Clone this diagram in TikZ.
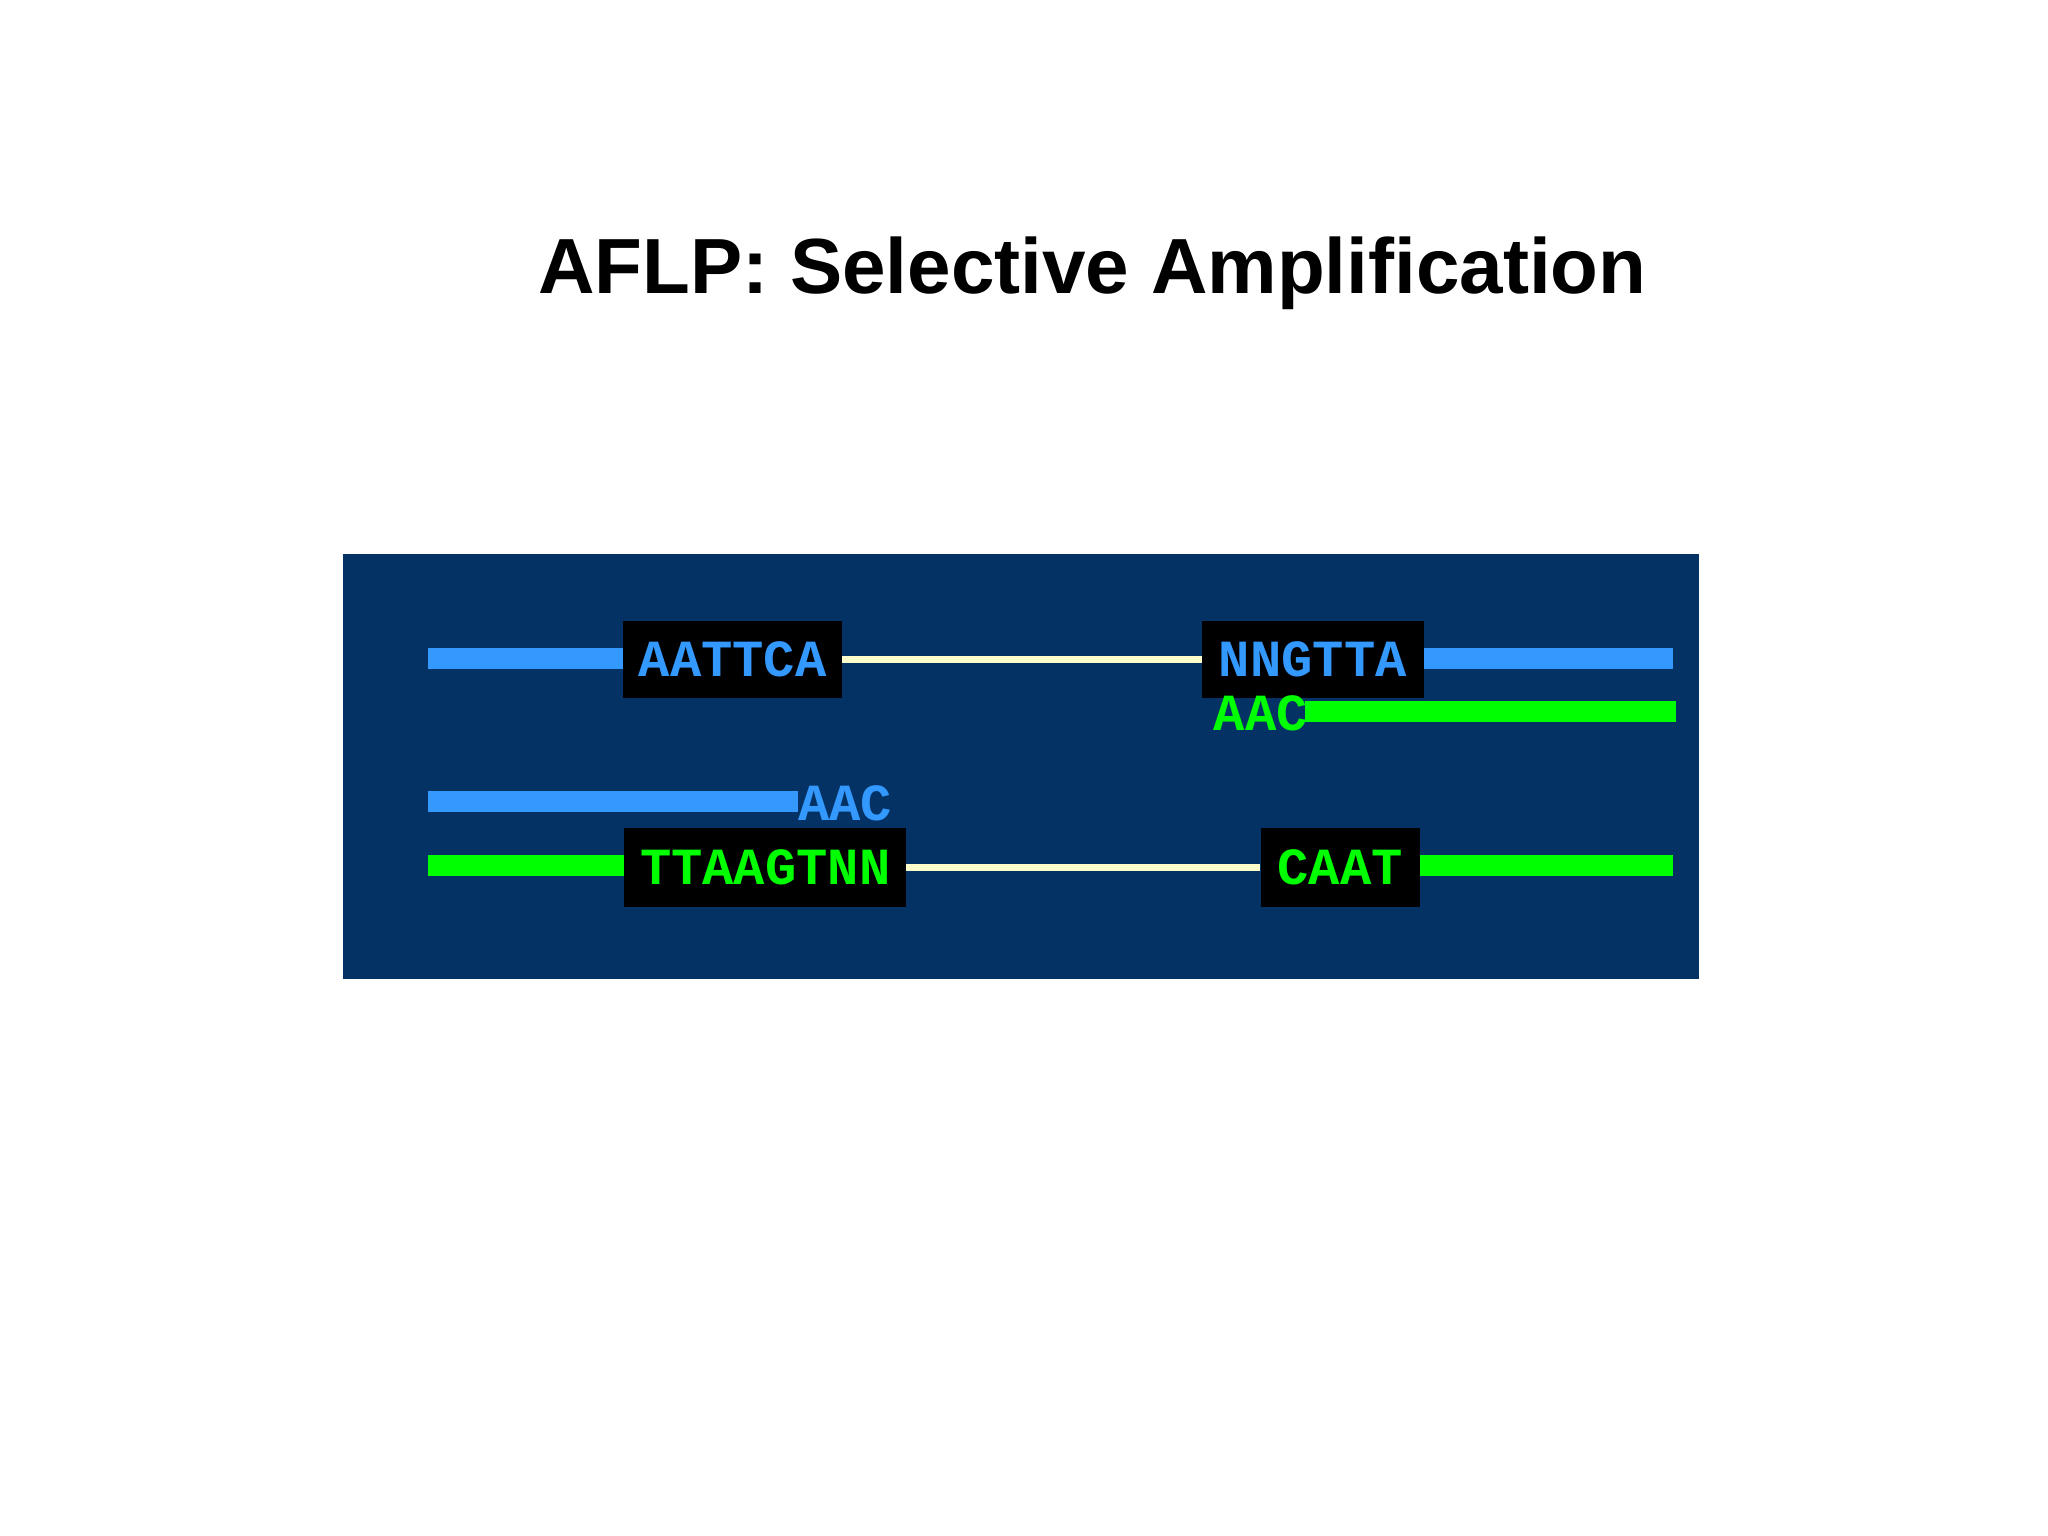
\documentclass[tikz,border=0pt]{standalone}
\usepackage{fontspec}
\setmainfont{Liberation Sans}
\newfontfamily\seqfont{Liberation Mono}
\definecolor{bgblue}{RGB}{4,50,100}
\definecolor{dnablue}{RGB}{51,153,255}
\definecolor{dnagreen}{RGB}{0,255,0}
\definecolor{cream}{RGB}{255,255,204}
\begin{document}
\begin{tikzpicture}[x=1pt,y=-1pt,
  seqbox/.style={fill=black,inner sep=0pt,font=\seqfont\bfseries\fontsize{40}{40}\selectfont},
  seqtext/.style={inner sep=0pt,font=\seqfont\bfseries\fontsize{40}{40}\selectfont},
  strand/.style={line width=16pt},
  link/.style={cream,line width=5pt}]
\useasboundingbox (0,0) rectangle (1571,1178);
\node[font=\bfseries\fontsize{60}{60}\selectfont,anchor=base] (title) at (838,225) {AFLP: Selective Amplification};
\fill[bgblue] (263,425) rectangle (1303,751);
% top strand
\node[seqbox,text=dnablue,minimum width=168pt,minimum height=59pt] (b1) at (562,506) {AATTCA};
\node[seqbox,text=dnablue,minimum width=170pt,minimum height=59pt] (b2) at (1007,506) {NNGTTA};
\coordinate (t1) at (328,505); \coordinate (t2) at (1283,505);
\draw[strand,dnablue] (t1) -- (t1 -| b1.west);
\draw[strand,dnablue] (t2 -| b2.east) -- (t2);
\draw[link] (b1.east) -- (b2.west);
% green primer
\node[seqtext,text=dnagreen,anchor=west] (p1) at (931,547) {AAC};
\coordinate (g1) at (1001,546); \coordinate (g2) at (1286,546);
\draw[strand,dnagreen] (g1) -- (g2);
% blue primer
\coordinate (bl1) at (328,615);
\node[seqtext,text=dnablue,anchor=west] (p2) at (612,616) {AAC};
\draw[strand,dnablue] (bl1) -- (bl1 -| p2.west);
% bottom strand
\node[seqbox,text=dnagreen,minimum width=216pt,minimum height=61pt] (b3) at (587,665.5) {TTAAGTNN};
\node[seqbox,text=dnagreen,minimum width=122pt,minimum height=61pt] (b4) at (1028,665.5) {CAAT};
\coordinate (u1) at (328,664); \coordinate (u2) at (1283,664);
\draw[strand,dnagreen] (u1) -- (u1 -| b3.west);
\draw[strand,dnagreen] (u2 -| b4.east) -- (u2);
\draw[link] (b3.east) -- (b4.west);
\end{tikzpicture}
\end{document}
